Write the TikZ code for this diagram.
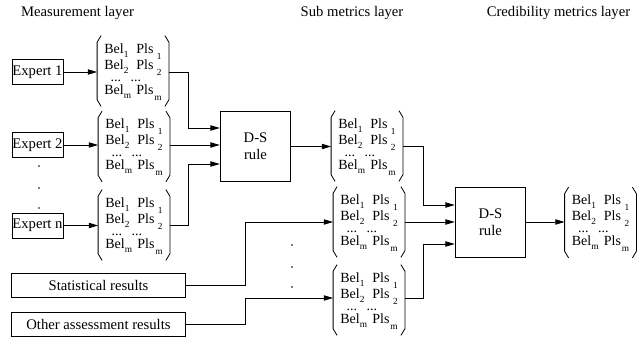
\documentclass[tikz,border=0pt]{standalone}
\usepackage{fontspec}
\setmainfont{Liberation Serif}
\usetikzlibrary{arrows.meta,positioning}

\newcommand{\bsub}[1]{\raisebox{-3pt}{\fontsize{7pt}{8pt}\selectfont #1}}
\newcommand{\psub}[1]{\raisebox{-4.5pt}{\fontsize{7pt}{8pt}\selectfont #1}}
\newcommand{\bprow}[1]{\hbox to 43pt{\makebox[24pt][l]{Bel\bsub{#1}}Pls\hfil\psub{#1}}}
\newcommand{\belpls}{\vbox{\fontsize{10.5pt}{12pt}\selectfont
    \baselineskip=12pt \lineskiplimit=-20pt
    \vskip1.15pt
    \bprow{1}
    \bprow{2}
    \vskip-3pt
    \hbox to 43pt{\hspace{4.75pt}...\hspace{7.1pt}...\hfil}
    \vskip-2.25pt
    \bprow{m}}}

\begin{document}
\begin{tikzpicture}[x=0.75pt, y=-0.75pt, line width=0.6pt,
    font=\fontsize{11pt}{13pt}\selectfont,
    >={Triangle[length=7pt,width=4pt]},
    layertitle/.style={inner sep=0pt},
    expbox/.style={draw, inner sep=0.3pt, minimum width=38.25pt, minimum height=18.75pt},
    srcbox/.style={draw, inner sep=1pt, minimum width=130pt, minimum height=18pt},
    dsbox/.style={draw, align=center, minimum width=53pt, minimum height=52.5pt},
    belmat/.style={inner sep=0pt, minimum width=53.25pt, minimum height=52.5pt}]
            \useasboundingbox (0,0) rectangle (644,337);

            \node[layertitle] (tmeas) at (77.5,13) {Measurement layer};
            \node[layertitle] (tsub) at (352,13) {Sub metrics layer};
            \node[layertitle] (tcred) at (558.5,13) {Credibility metrics layer};

            \node[expbox] (e1) at (37.5,72) {Expert 1};
            \node[expbox] (e2) at (37.5,145) {Expert 2};
            \node[expbox] (en) at (37.5,225.5) {Expert n};
            \node[srcbox] (stat) at (98.5,285) {Statistical results};
            \node[srcbox] (oth) at (98.5,324) {Other assessment results};

            \node[belmat] (m1) at (133,71) {\belpls};
            \node[belmat] (m2) at (134,146.5) {\belpls};
            \node[belmat] (m3) at (134,225) {\belpls};
            \node[belmat] (s1) at (367,146) {\belpls};
            \node[belmat] (s2) at (369,222) {\belpls};
            \node[belmat] (s3) at (369,300) {\belpls};
            \node[belmat] (c1) at (600.5,222.5) {\belpls};

            \node[dsbox] (ds1) at (255.5,146.5) {D-S\\rule};
            \node[dsbox] (ds2) at (490.5,222) {D-S\\rule};

            \coordinate (j1) at (188,128);
            \coordinate (j2) at (188,164);
            \coordinate (j3) at (245,222);
            \coordinate (j4) at (245,298);
            \coordinate (j5) at (423,205);
            \coordinate (j6) at (423,244);

            % brackets of the matrices
            \foreach \m in {m1,m2,m3,s1,s2,s3,c1}{
                \draw ([xshift=3pt]\m.north west) -- ([yshift=-5pt]\m.north west) -- ([yshift=5pt]\m.south west) -- ([xshift=3pt]\m.south west);
                \draw ([xshift=-3pt]\m.north east) -- ([yshift=-5pt]\m.north east) -- ([yshift=5pt]\m.south east) -- ([xshift=-3pt]\m.south east);
            }

            \foreach \y in {166,188,208} \fill (39,\y) circle (0.7pt);
            \foreach \y in {245,267,287} \fill (292,\y) circle (0.7pt);

            \draw[->] (e1) -- (e1 -| m1.west);
            \draw[->] (e2) -- (e2 -| m2.west);
            \draw[->] (en) -- (en -| m3.west);
            \draw[->] (m1.east |- e1) -| (j1) -- (j1 -| ds1.west);
            \draw[->] (m2.east |- e2) -- (e2 -| ds1.west);
            \draw[->] (m3.east |- en) -| (j2) -- (j2 -| ds1.west);
            \draw[->] (ds1.east) -- (ds1 -| s1.west);
            \draw[->] (stat.east) -| (j3) -- (j3 -| s2.west);
            \draw[->] (oth.east) -| (j4) -- (j4 -| s3.west);
            \draw[->] (s1.east) -| (j5) -- (j5 -| ds2.west);
            \draw[->] (s2.east) -- (s2 -| ds2.west);
            \draw[->] (s3.east |- j4) -| (j6) -- (j6 -| ds2.west);
            \draw[->] (ds2.east) -- (ds2 -| c1.west);
        \end{tikzpicture}
\end{document}
